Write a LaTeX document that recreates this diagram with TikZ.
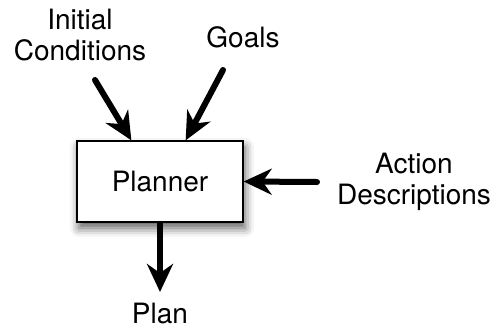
\documentclass[tikz,border=0pt]{standalone}
\usepackage{fontspec}
\setmainfont{TeX Gyre Heros}
\usetikzlibrary{arrows.meta,shadows.blur}
\begin{document}
\begin{tikzpicture}[x=1pt,y=-1pt,
  lbl/.style={font=\fontsize{28}{31}\selectfont, align=center, inner sep=0pt},
  arr/.style={line width=6pt, line cap=round,
    -{Stealth[length=28pt, width=26pt, inset=9pt]}}]
  \useasboundingbox (0,0) rectangle (497,330);
  \node [lbl, draw, line width=1.3pt, fill=white, minimum width=166pt,
    minimum height=81pt,
    blur shadow={shadow xshift=2pt, shadow yshift=-6pt,
      shadow blur radius=9pt, shadow opacity=65}]
    (planner) at (160,181.5) {Planner};
  \node [lbl] (initial) at (80,35)  {Initial\\Conditions};
  \node [lbl] (goals)   at (243,37) {Goals};
  \node [lbl] (action)  at (414,182) {Action\\Descriptions};
  \node [lbl] (plan)    at (160,313) {Plan};
  \coordinate (ic tail) at (95,80);
  \coordinate (goal tail) at (223,70);
  \coordinate (act tail) at (317,182);
  \coordinate (plan tip) at (160,292);
  \draw [arr] (ic tail) -- ([xshift=55pt]planner.north west);
  \draw [arr] (goal tail) -- ([xshift=-58pt]planner.north east);
  \draw [arr] (act tail) -- (planner.east);
  \draw [arr, line cap=butt] (planner.south) -- (plan tip);
\end{tikzpicture}
\end{document}
